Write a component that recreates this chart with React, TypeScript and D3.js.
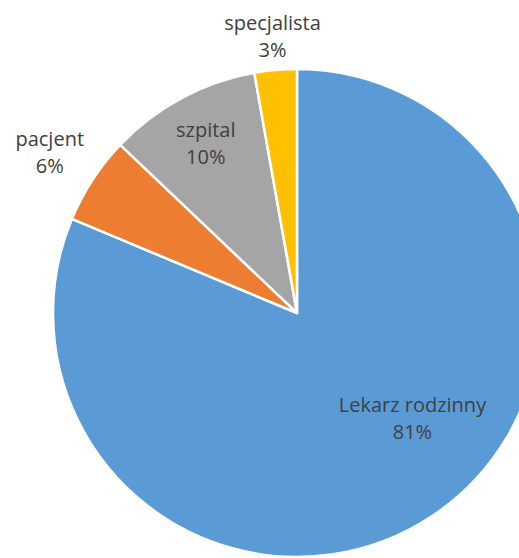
import * as d3 from "d3";
import { useEffect, useRef } from "react";

const categories = ["Lekarz rodzinny", "pacjent", "szpital", "specjalista"];
const shares = [81.3, 5.8, 10.1, 2.8];
const percentLabels = ["81%", "6%", "10%", "3%"];
const colors = ["#5B9BD5", "#ED7D31", "#A5A5A5", "#FFC000"];

// label placement: distance from centre (as fraction of radius) and angle nudge (deg)
const labelRadius = [0.64, 1.21, 0.79, 1.14];
const labelNudge = [-14, 0, 0, 0];

const W = 519;
const H = 558;

function PieChart() {
  const ref = useRef<SVGSVGElement>(null);
  const cx = 297;
  const cy = 313;
  const radius = 244;

  useEffect(() => {
    const svg = d3.select(ref.current);
    svg.selectAll("*").remove();

    const rows = categories.map((name, i) => ({
      name,
      value: shares[i],
      label: percentLabels[i],
      color: colors[i],
      i,
    }));

    const pie = d3
      .pie<any>()
      .value((d) => d.value)
      .sort(null);
    const arcs = pie(rows);
    const arc = d3.arc<any>().innerRadius(0).outerRadius(radius);

    const g = svg.append("g").attr("transform", `translate(${cx},${cy})`);

    g.selectAll("path")
      .data(arcs)
      .join("path")
      .attr("d", arc)
      .attr("fill", (d) => d.data.color)
      .attr("stroke", "#fff")
      .attr("stroke-width", 2.5)
      .attr("stroke-linejoin", "round");

    const labels = g
      .selectAll("text")
      .data(arcs)
      .join("text")
      .attr("text-anchor", "middle")
      .attr("fill", "#404040")
      .style("font", "20px 'Open Sans', sans-serif")
      .attr("transform", (d) => {
        const a =
          (d.startAngle + d.endAngle) / 2 +
          (labelNudge[d.data.i] * Math.PI) / 180;
        const r = radius * labelRadius[d.data.i];
        return `translate(${r * Math.sin(a)},${-r * Math.cos(a)})`;
      });

    labels
      .append("tspan")
      .attr("x", 0)
      .attr("dy", "-0.3em")
      .text((d) => d.data.name);
    labels
      .append("tspan")
      .attr("x", 0)
      .attr("dy", "1.35em")
      .text((d) => d.data.label);
  });

  return (
    <svg
      ref={ref}
      width={W}
      height={H}
      style={{ position: "absolute", left: 0, top: 0, background: "#fff" }}
    />
  );
}

export default function App() {
  return <PieChart />;
}
